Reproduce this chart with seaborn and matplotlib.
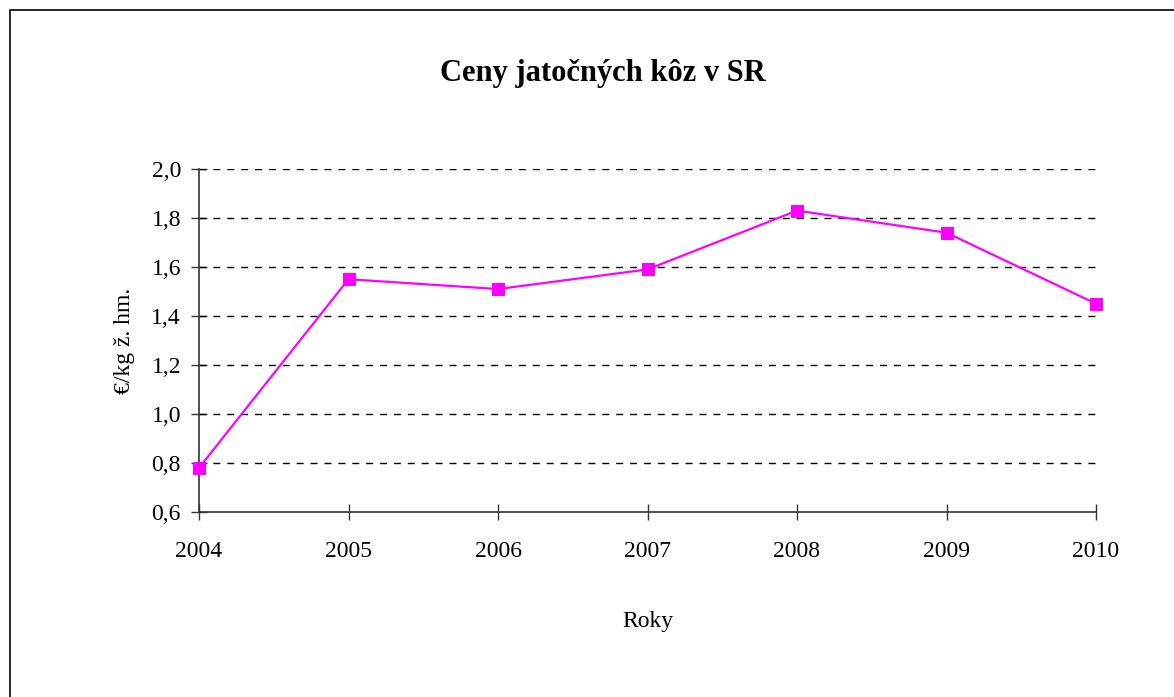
import matplotlib
matplotlib.use("Agg")
import matplotlib.pyplot as plt
import pandas as pd
import seaborn as sns
from matplotlib.patches import Rectangle

years = [2004, 2005, 2006, 2007, 2008, 2009, 2010]
prices = [0.78, 1.55, 1.51, 1.59, 1.83, 1.74, 1.45]
y_ticks = [0.6, 0.8, 1.0, 1.2, 1.4, 1.6, 1.8, 2.0]

df = pd.DataFrame({"rok": years, "cena": prices})

sns.set_style("white")
plt.rcParams["font.family"] = ["Liberation Serif", "DejaVu Serif"]
plt.rcParams["text.color"] = "black"
plt.rcParams["axes.labelcolor"] = "black"
plt.rcParams["xtick.color"] = "black"
plt.rcParams["ytick.color"] = "black"

fig = plt.figure(figsize=(11.74, 6.97), dpi=100)
ax = fig.add_axes([199 / 1174, 1 - 512 / 697, (1096 - 199) / 1174, (512 - 169) / 697])

# outer frame of the chart area
fig.patches.append(Rectangle((10 / 1174, -0.1), 1.2, 1 - 10 / 697 + 0.1,
                             transform=fig.transFigure, fill=False,
                             edgecolor="black", linewidth=1.2))

for t in y_ticks[1:]:
    ax.axhline(t, color="black", linewidth=1, linestyle=(0, (5, 5)), zorder=1)

sns.lineplot(data=df, x="rok", y="cena", ax=ax, color="#FF00FF", linewidth=1.6,
             marker="s", markersize=8.5, markeredgecolor="#FF00FF", zorder=3,
             clip_on=False)

ax.set_xlim(2004, 2010)
ax.set_ylim(0.6, 2.0)
ax.set_xticks(years)
ax.set_xticklabels([str(y) for y in years], fontsize=17)
ax.set_yticks(y_ticks)
ax.set_yticklabels([f"{t:.1f}".replace(".", ",") for t in y_ticks], fontsize=17)

for s in ["top", "right"]:
    ax.spines[s].set_visible(False)
for s in ["left", "bottom"]:
    ax.spines[s].set_color("#333333")
    ax.spines[s].set_linewidth(1.2)

ax.tick_params(axis="both", direction="inout", length=12, width=1, color="#333333",
               bottom=True, left=True)
ax.tick_params(axis="x", pad=15)
ax.tick_params(axis="y", pad=7)

ax.set_xlabel("Roky", fontsize=17, labelpad=35)
ax.set_ylabel("€/kg ž. hm.", fontsize=17, labelpad=12)
fig.text(603 / 1174, 1 - 74 / 697, "Ceny jatočných kôz v SR", ha="center",
         va="center", fontsize=22, fontweight="bold")

fig.savefig("out.png", dpi=100)
